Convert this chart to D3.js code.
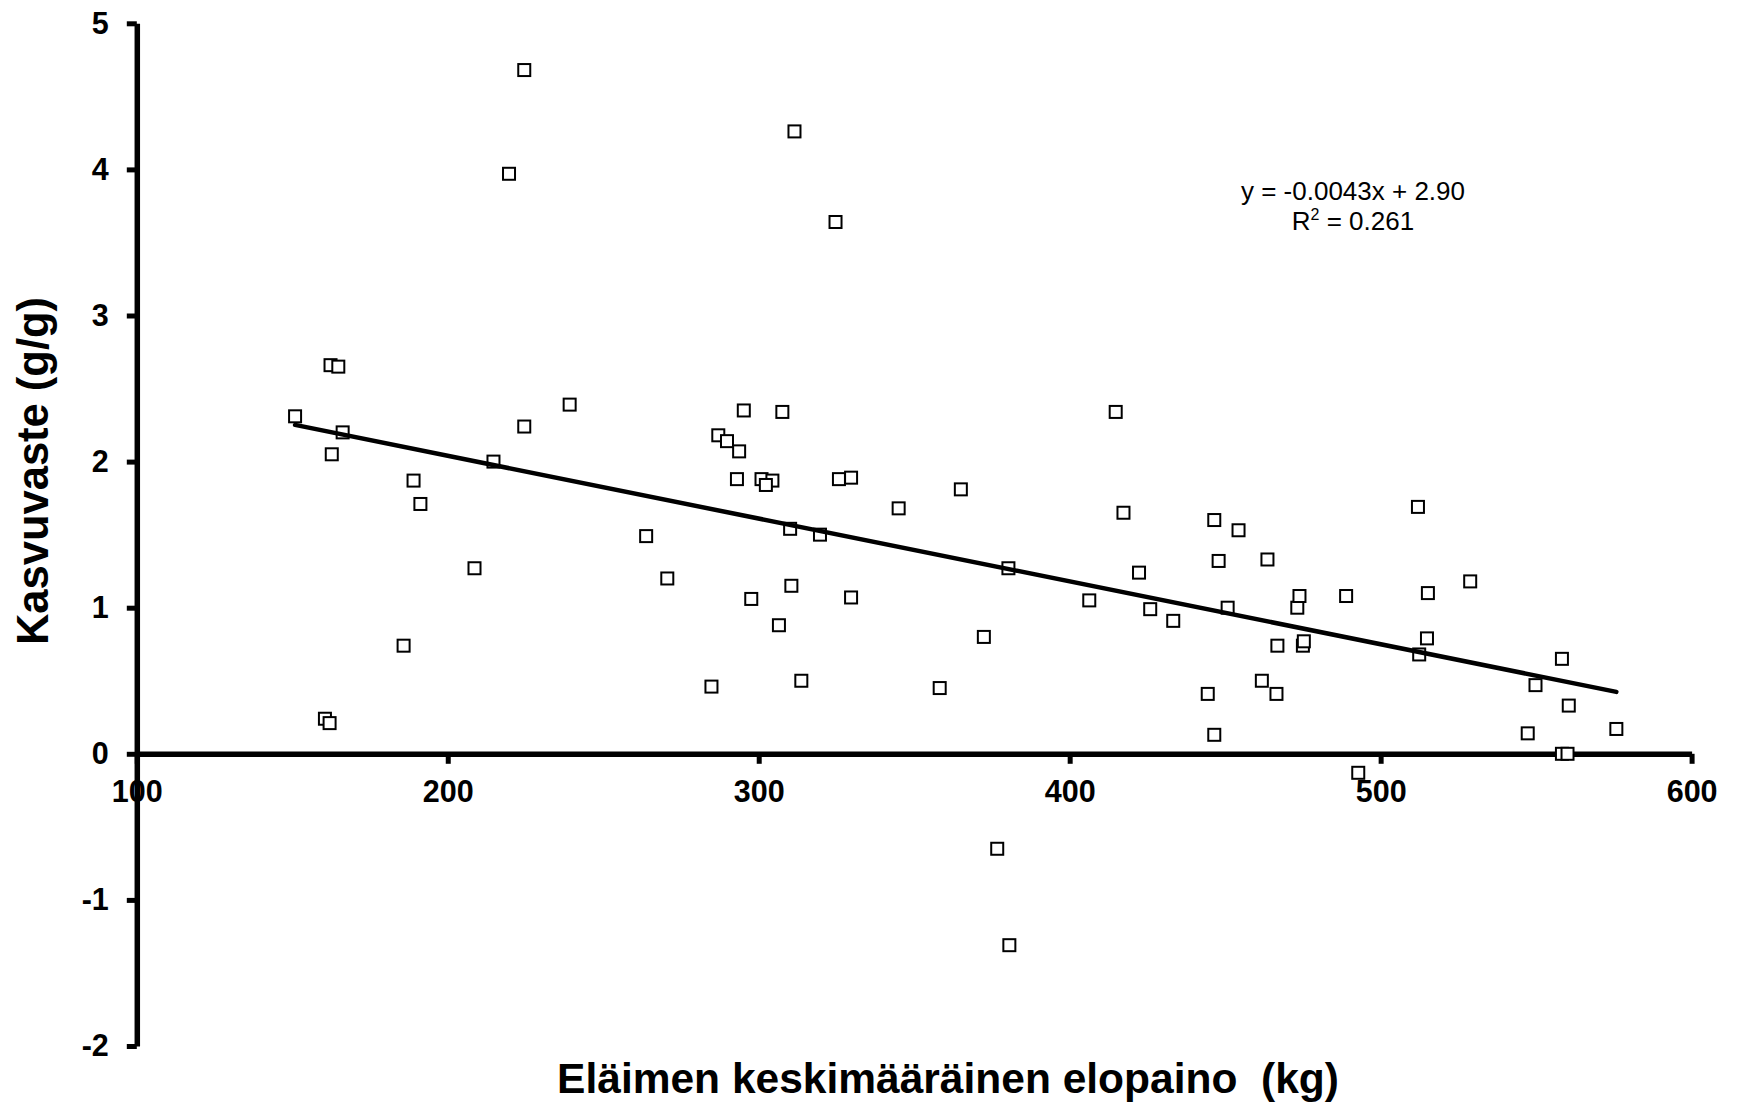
<!DOCTYPE html>
<html>
<head>
<meta charset="utf-8">
<script src="https://cdn.jsdelivr.net/npm/d3@7"></script>
<style>
  body { margin: 0; background: #fff; }
  text { font-family: "Liberation Sans", Arial, sans-serif; fill: #000; }
</style>
</head>
<body>
<div id="chart"></div>
<script>
// average live weight (kg) and growth response (g/g)
let weight = [150.9, 162.3, 164.8, 166.2, 162.7, 160.5, 162.0, 185.8, 189.0, 191.2,
  208.6, 214.7, 219.7, 224.6, 224.6, 239.2, 263.8, 270.6, 284.8, 287.0,
  289.8, 293.7, 293.0, 295.2, 297.6, 300.9, 304.4, 302.3, 306.5, 307.6,
  310.1, 310.5, 311.5, 313.7, 319.7, 324.7, 325.8, 329.7, 329.7, 345.0,
  358.2, 365.0, 372.4, 376.7, 380.3, 380.6, 406.3, 414.8, 417.3, 422.3,
  425.9, 433.3, 444.4, 446.5, 446.5, 447.9, 450.8, 454.3, 461.8, 463.6,
  466.5, 466.8, 473.2, 473.9, 475.0, 475.3, 488.9, 492.8, 512.0, 512.4,
  514.9, 515.2, 528.8, 547.3, 549.8, 558.3, 558.3, 560.1, 560.5, 575.8]
let response = [2.31, 2.66, 2.65, 2.20, 2.05, 0.24, 0.21, 0.74, 1.87, 1.71,
  1.27, 2.00, 3.97, 4.68, 2.24, 2.39, 1.49, 1.20, 0.46, 2.18,
  2.14, 2.07, 1.88, 2.35, 1.06, 1.88, 1.87, 1.84, 0.88, 2.34,
  1.54, 1.15, 4.26, 0.50, 1.50, 3.64, 1.88, 1.89, 1.07, 1.68,
  0.45, 1.81, 0.80, -0.65, 1.27, -1.31, 1.05, 2.34, 1.65, 1.24,
  0.99, 0.91, 0.41, 1.60, 0.13, 1.32, 1.00, 1.53, 0.50, 1.33,
  0.41, 0.74, 1.00, 1.08, 0.74, 0.77, 1.08, -0.13, 1.69, 0.68,
  0.79, 1.10, 1.18, 0.14, 0.47, 0.65, 0.00, 0.00, 0.33, 0.17]

let xTicks = [100, 200, 300, 400, 500, 600]
let yTicks = [-2, -1, 0, 1, 2, 3, 4, 5]

// linear trend shown on the chart
let trend = [-0.0043, 2.90]
let trendText = ['y = -0.0043x + 2.90', 'R', '2', ' = 0.261']

let xTitle = 'Eläimen keskimääräinen elopaino  (kg)'
let yTitle = 'Kasvuvaste (g/g)'

window.addEventListener('load', () => {
  let W = 1737, H = 1106
  let axisWidth = 5.5
  let box = 12

  let svg = d3.select('#chart')
    .append('svg')
    .attr('width', W)
    .attr('height', H)

  svg.append('rect')
    .attr('width', W)
    .attr('height', H)
    .attr('fill', '#fff')

  let x = d3.scaleLinear().domain([100, 600]).range([136.8, 1691.6])
  let y = d3.scaleLinear().domain([-2, 5]).range([1046, 23.3])

  function styleAxis(g) {
    g.select('.domain').attr('stroke', '#000').attr('stroke-width', axisWidth)
    g.selectAll('.tick line').attr('stroke', '#000').attr('stroke-width', 5)
    g.selectAll('.tick text')
      .attr('font-size', 30.5)
      .attr('font-weight', 'bold')
      .attr('fill', '#000')
  }

  // y axis
  svg.append('g')
    .attr('transform', 'translate(' + x(100) + ',0)')
    .call(d3.axisLeft(y).tickValues(yTicks).tickSize(10).tickSizeOuter(0)
      .tickPadding(18).tickFormat(d => String(d)))
    .call(styleAxis)

  // x axis sits on y = 0
  svg.append('g')
    .attr('transform', 'translate(0,' + y(0) + ')')
    .call(d3.axisBottom(x).tickValues(xTicks).tickSize(10).tickSizeOuter(0)
      .tickPadding(17).tickFormat(d => String(d)))
    .call(styleAxis)

  // markers
  let pts = weight.map((w, i) => [w, response[i]])
  svg.append('g')
    .selectAll('rect')
    .data(pts)
    .join('rect')
    .attr('x', d => x(d[0]) - box / 2)
    .attr('y', d => y(d[1]) - box / 2)
    .attr('width', box)
    .attr('height', box)
    .attr('fill', '#fff')
    .attr('stroke', '#000')
    .attr('stroke-width', 2)

  // trend line over the data range
  let ext = d3.extent(weight)
  let line = d3.line().x(d => x(d)).y(d => y(trend[0] * d + trend[1]))
  svg.append('path')
    .attr('d', line(ext))
    .attr('fill', 'none')
    .attr('stroke', '#000')
    .attr('stroke-width', 4.5)
    .attr('stroke-linecap', 'round')

  // equation
  let eq = svg.append('g').attr('font-size', 26).attr('text-anchor', 'middle')
  eq.append('text')
    .attr('x', 1353)
    .attr('y', 200)
    .text(trendText[0])
  let r2 = eq.append('text')
    .attr('x', 1353)
    .attr('y', 230)
  r2.append('tspan').text(trendText[1])
  r2.append('tspan').attr('font-size', 16).attr('dy', -10).text(trendText[2])
  r2.append('tspan').attr('dy', 10).text(trendText[3])

  // axis titles
  svg.append('text')
    .attr('x', 948)
    .attr('y', 1093)
    .attr('text-anchor', 'middle')
    .attr('font-size', 42.5)
    .attr('font-weight', 'bold')
    .style('white-space', 'pre')
    .text(xTitle)

  svg.append('text')
    .attr('transform', 'translate(48,471) rotate(-90)')
    .attr('text-anchor', 'middle')
    .attr('font-size', 43.5)
    .attr('font-weight', 'bold')
    .text(yTitle)
})
</script>
</body>
</html>
